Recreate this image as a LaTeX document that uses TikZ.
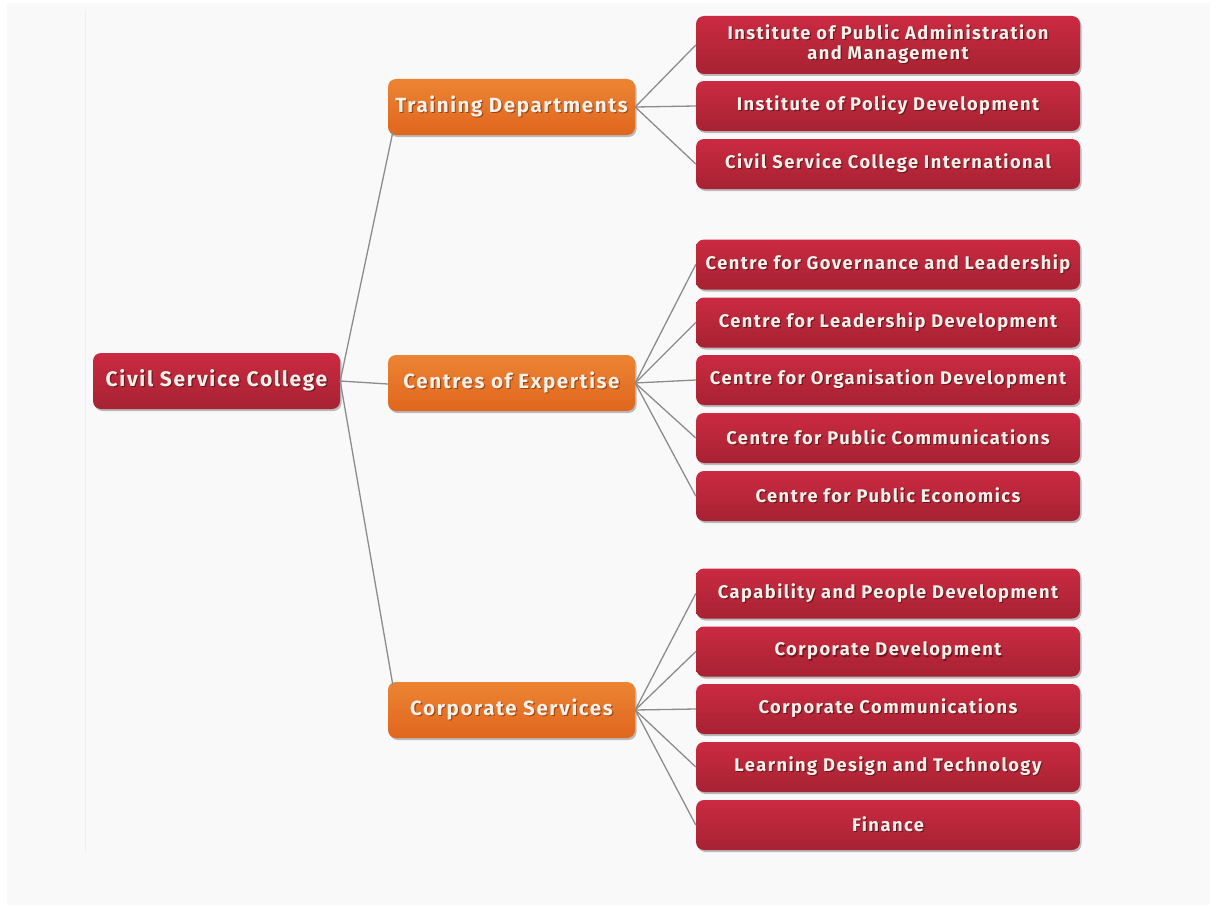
\documentclass[tikz,border=0pt]{standalone}
\usepackage{fontspec}
\setmainfont{Fira Sans}[LetterSpace=8]
\usetikzlibrary{shadows}
\definecolor{bgc}{HTML}{F9F9F9}
\definecolor{redtop}{HTML}{CB2A42}
\definecolor{redbot}{HTML}{A62232}
\definecolor{ortop}{HTML}{EC8433}
\definecolor{orbot}{HTML}{E0661E}
\definecolor{linec}{HTML}{8C8C8C}
\definecolor{txtc}{HTML}{F8F1EA}
\newcommand\shtxt[2][redbot!65!black]{\leavevmode\rlap{\raisebox{-1.2pt}{\kern1.2pt\textcolor{#1}{#2}}}#2}
\tikzset{
  box/.style={rounded corners=8pt, text=txtc, align=center, inner sep=0pt,
    drop shadow={shadow xshift=1.5pt, shadow yshift=-2pt, opacity=0.25, fill=black}},
  leaf/.style={box, top color=redtop, bottom color=redbot, minimum width=384pt, minimum height=50pt, font=\bfseries\fontsize{18.3}{20}\selectfont},
  rootbox/.style={box, top color=redtop, bottom color=redbot, minimum width=247pt, minimum height=56pt, font=\bfseries\fontsize{21}{22}\selectfont},
  mid/.style={box, top color=ortop, bottom color=orbot, minimum width=247pt, minimum height=56pt, font=\bfseries\fontsize{20.5}{22}\selectfont},
  conn/.style={draw=linec, line width=1.3pt}
}
\begin{document}
\begin{tikzpicture}[x=1pt,y=-1pt]
\useasboundingbox (0,0) rectangle (1218,907);
\fill[white] (0,0) rectangle (1218,907);
\fill[bgc] (7,3) rectangle (1210,905);
\draw[color=black!4!bgc, line width=1pt] (85,10) -- (85,852);

\node[rootbox] (root) at (216.5,381) {\shtxt{Civil Service College}};
\node[mid] (td) at (511.5,107) {\shtxt[orbot!70!black]{Training Departments}};
\node[mid] (ce) at (511.5,383) {\shtxt[orbot!70!black]{Centres of Expertise}};
\node[mid] (cs) at (511.5,710) {\shtxt[orbot!70!black]{Corporate Services}};

\node[leaf, minimum height=58pt] (l1) at (888,45) {\shtxt{Institute of Public Administration}\\\shtxt{and Management}};
\node[leaf] (l2) at (888,106) {\shtxt{Institute of Policy Development}};
\node[leaf] (l3) at (888,164) {\shtxt{Civil Service College International}};

\node[leaf] (c1) at (888,264.5) {\shtxt{Centre for Governance and Leadership}};
\node[leaf] (c2) at (888,322.5) {\shtxt{Centre for Leadership Development}};
\node[leaf] (c3) at (888,380) {\shtxt{Centre for Organisation Development}};
\node[leaf] (c4) at (888,438) {\shtxt{Centre for Public Communications}};
\node[leaf] (c5) at (888,496) {\shtxt{Centre for Public Economics}};

\node[leaf] (s1) at (888,593.5) {\shtxt{Capability and People Development}};
\node[leaf] (s2) at (888,651.5) {\shtxt{Corporate Development}};
\node[leaf] (s3) at (888,709) {\shtxt{Corporate Communications}};
\node[leaf] (s4) at (888,767) {\shtxt{Learning Design and Technology}};
\node[leaf] (s5) at (888,825) {\shtxt{Finance}};

\draw[conn] (root.east) -- ([xshift=5pt,yshift=3pt]td.south west);
\draw[conn] (root.east) -- ([yshift=-1pt]ce.west);
\draw[conn] (root.east) -- ([xshift=5pt,yshift=-3pt]cs.north west);

\foreach \n in {l1,l2,l3} \draw[conn] (td.east) -- (\n.west);
\foreach \n in {c1,c2,c3,c4,c5} \draw[conn] (ce.east) -- (\n.west);
\foreach \n in {s1,s2,s3,s4,s5} \draw[conn] (cs.east) -- (\n.west);
\end{tikzpicture}
\end{document}
